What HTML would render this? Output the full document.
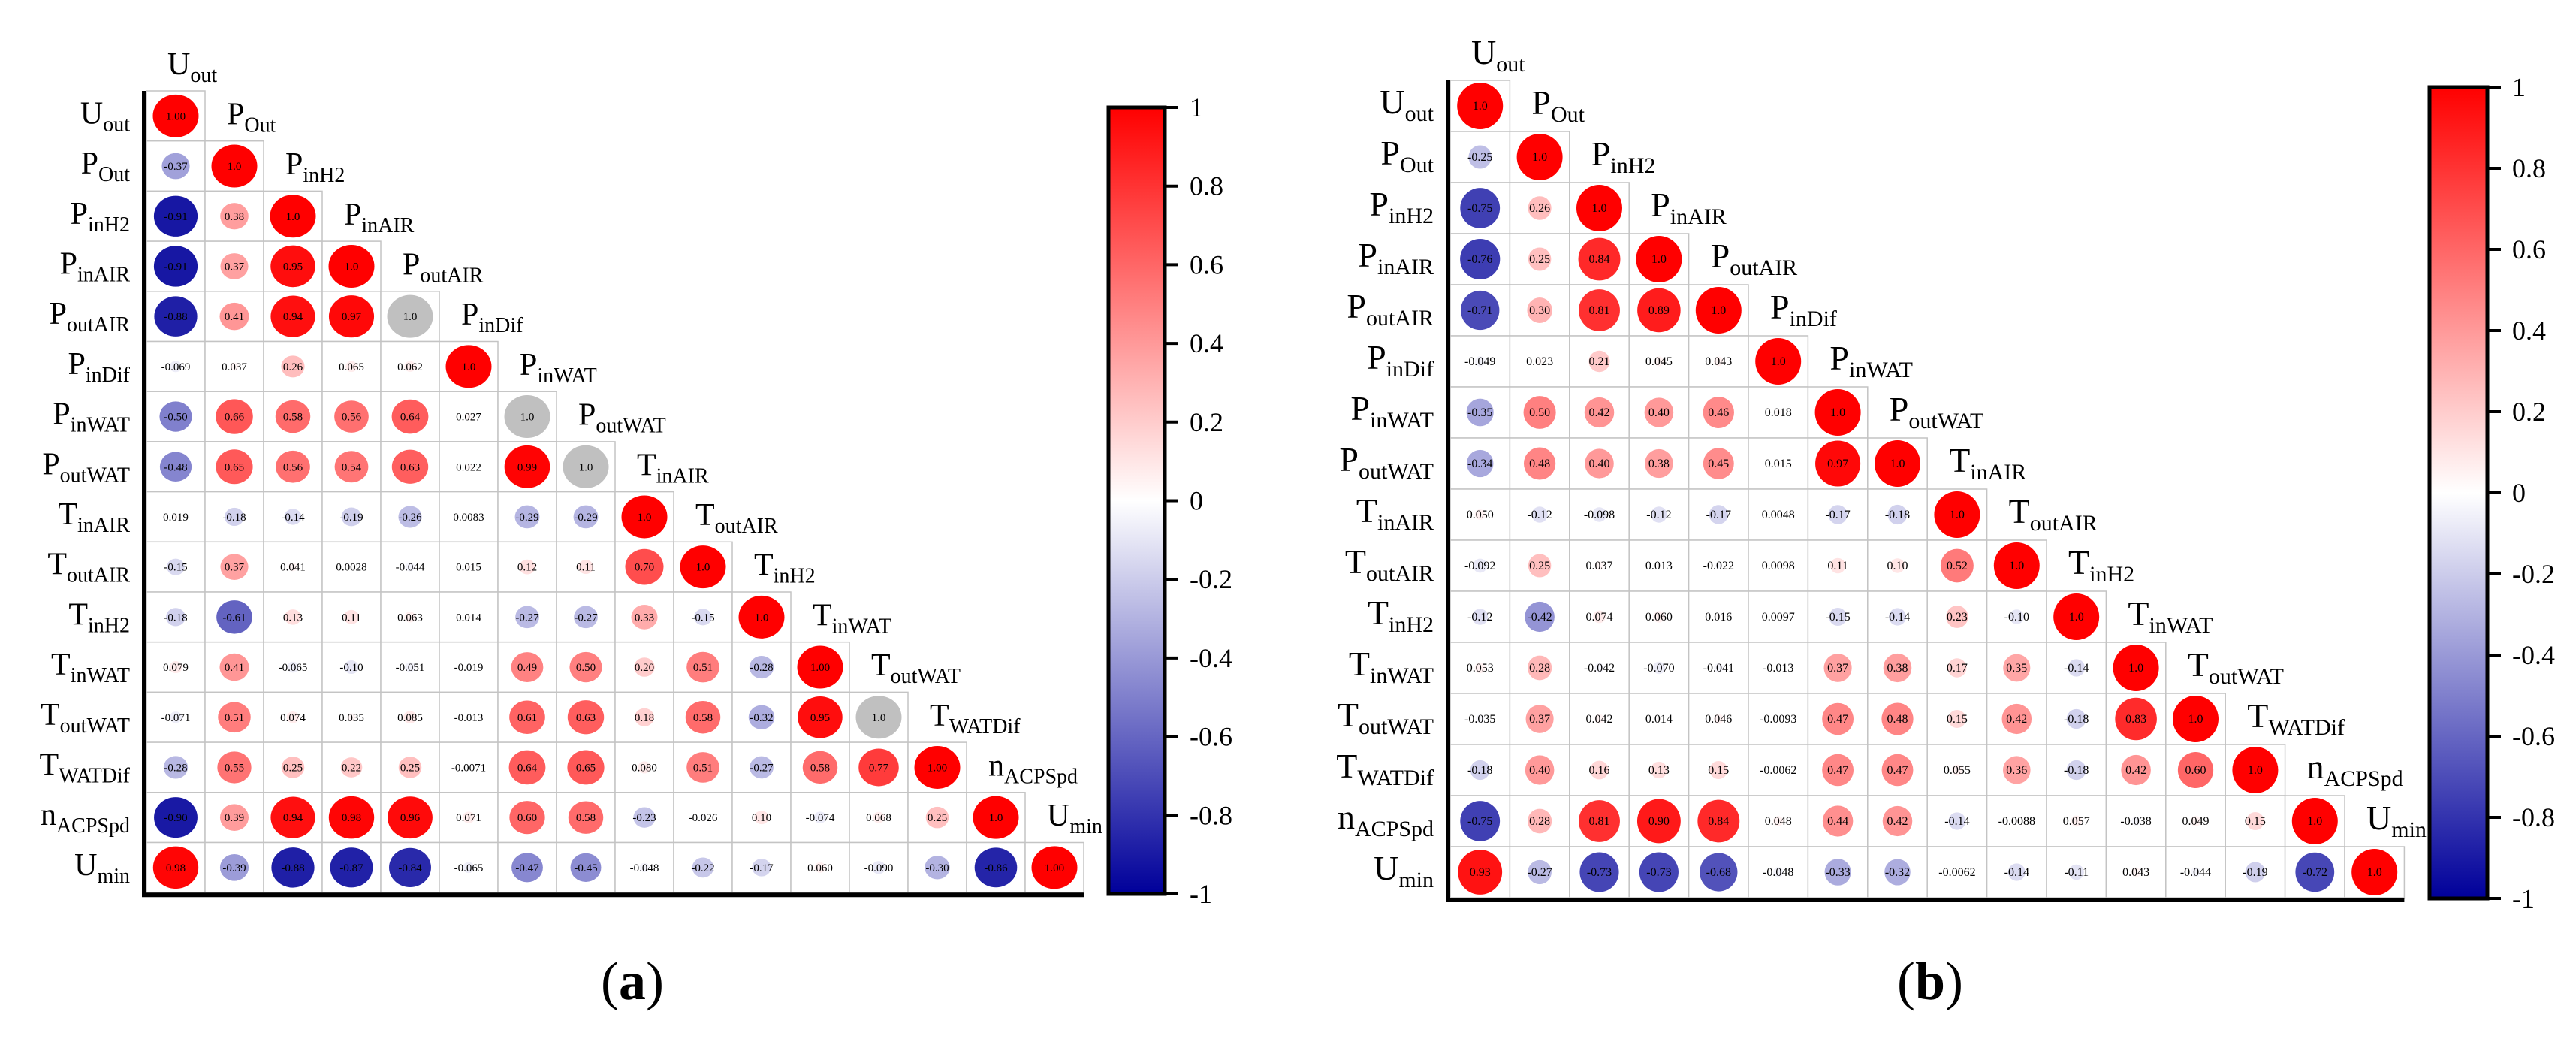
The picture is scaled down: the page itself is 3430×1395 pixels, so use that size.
<!DOCTYPE html>
<html><head><meta charset="utf-8"><style>
html,body{margin:0;padding:0;background:#fff;}
svg{display:block;font-family:"Liberation Serif",serif;}
</style></head><body>
<svg id="fig" width="3430" height="1395" viewBox="0 0 3430 1395" xmlns="http://www.w3.org/2000/svg">
<defs>
<linearGradient id="cbgrad" x1="0" y1="0" x2="0" y2="1">
<stop offset="0" stop-color="#ff0000"/><stop offset="0.5" stop-color="#ffffff"/><stop offset="1" stop-color="#00009a"/>
</linearGradient>
</defs>
<text x="842" y="1330" font-size="72" text-anchor="middle">(<tspan font-weight="bold">a</tspan>)</text>
<text x="2570" y="1330" font-size="72" text-anchor="middle">(<tspan font-weight="bold">b</tspan>)</text>
</svg>
<script>
const varMain = ["U","P","P","P","P","P","P","P","T","T","T","T","T","T","n","U"];
const varSub = ["out","Out","inH2","inAIR","outAIR","inDif","inWAT","outWAT","inAIR","outAIR","inH2","inWAT","outWAT","WATDif","ACPSpd","min"];
const corrA = [
["1.00"],
["-0.37","1.0"],
["-0.91","0.38","1.0"],
["-0.91","0.37","0.95","1.0"],
["-0.88","0.41","0.94","0.97","1.0"],
["-0.069","0.037","0.26","0.065","0.062","1.0"],
["-0.50","0.66","0.58","0.56","0.64","0.027","1.0"],
["-0.48","0.65","0.56","0.54","0.63","0.022","0.99","1.0"],
["0.019","-0.18","-0.14","-0.19","-0.26","0.0083","-0.29","-0.29","1.0"],
["-0.15","0.37","0.041","0.0028","-0.044","0.015","0.12","0.11","0.70","1.0"],
["-0.18","-0.61","0.13","0.11","0.063","0.014","-0.27","-0.27","0.33","-0.15","1.0"],
["0.079","0.41","-0.065","-0.10","-0.051","-0.019","0.49","0.50","0.20","0.51","-0.28","1.00"],
["-0.071","0.51","0.074","0.035","0.085","-0.013","0.61","0.63","0.18","0.58","-0.32","0.95","1.0"],
["-0.28","0.55","0.25","0.22","0.25","-0.0071","0.64","0.65","0.080","0.51","-0.27","0.58","0.77","1.00"],
["-0.90","0.39","0.94","0.98","0.96","0.071","0.60","0.58","-0.23","-0.026","0.10","-0.074","0.068","0.25","1.0"],
["0.98","-0.39","-0.88","-0.87","-0.84","-0.065","-0.47","-0.45","-0.048","-0.22","-0.17","0.060","-0.090","-0.30","-0.86","1.00"]
];
const grayDiagA = [4,6,7,12];
const corrB = [
["1.0"],
["-0.25","1.0"],
["-0.75","0.26","1.0"],
["-0.76","0.25","0.84","1.0"],
["-0.71","0.30","0.81","0.89","1.0"],
["-0.049","0.023","0.21","0.045","0.043","1.0"],
["-0.35","0.50","0.42","0.40","0.46","0.018","1.0"],
["-0.34","0.48","0.40","0.38","0.45","0.015","0.97","1.0"],
["0.050","-0.12","-0.098","-0.12","-0.17","0.0048","-0.17","-0.18","1.0"],
["-0.092","0.25","0.037","0.013","-0.022","0.0098","0.11","0.10","0.52","1.0"],
["-0.12","-0.42","0.074","0.060","0.016","0.0097","-0.15","-0.14","0.23","-0.10","1.0"],
["0.053","0.28","-0.042","-0.070","-0.041","-0.013","0.37","0.38","0.17","0.35","-0.14","1.0"],
["-0.035","0.37","0.042","0.014","0.046","-0.0093","0.47","0.48","0.15","0.42","-0.18","0.83","1.0"],
["-0.18","0.40","0.16","0.13","0.15","-0.0062","0.47","0.47","0.055","0.36","-0.18","0.42","0.60","1.0"],
["-0.75","0.28","0.81","0.90","0.84","0.048","0.44","0.42","-0.14","-0.0088","0.057","-0.038","0.049","0.15","1.0"],
["0.93","-0.27","-0.73","-0.73","-0.68","-0.048","-0.33","-0.32","-0.0062","-0.14","-0.11","0.043","-0.044","-0.19","-0.72","1.0"]
];
const grayDiagB = [];
const cbTicks = [1,0.8,0.6,0.4,0.2,0,-0.2,-0.4,-0.6,-0.8,-1];
const cbTickLabels = ["1","0.8","0.6","0.4","0.2","0","-0.2","-0.4","-0.6","-0.8","-1"];

const NS = "http://www.w3.org/2000/svg";
const svg = document.getElementById("fig");
function mk(tag, attrs, parent){
  const e = document.createElementNS(NS, tag);
  for (const k in attrs) e.setAttribute(k, attrs[k]);
  (parent||svg).appendChild(e);
  return e;
}
function color(v){
  const a = Math.min(1, Math.abs(v));
  if (v >= 0){ const g = Math.round(255*(1-a)); return `rgb(255,${g},${g})`; }
  const g = Math.round(255*(1-a)); const b = Math.round(255 - a*(255-154));
  return `rgb(${g},${g},${b})`;
}
function label(g, x, y, main, sub, fsM, fsS, anchor){
  const t = mk("text", {x:x, y:y, "font-size":fsM, "text-anchor":anchor}, g);
  const s1 = mk("tspan", {}, t); s1.textContent = main;
  const s2 = mk("tspan", {"font-size":fsS, dy:10}, t); s2.textContent = sub;
  return t;
}
function panel(P){
  const g = mk("g", {});
  
  
  const n = P.data.length;
  const colX = j => P.x0 + j*P.cw;
  const rowY = i => P.y0 + i*P.rh;
  for (let i=0;i<n;i++){
    for (let j=0;j<=i;j++){
      const r = mk("rect", {x:colX(j), y:rowY(i), width:P.cw, height:P.rh, fill:"#fff", stroke:"#c4c4c4", "stroke-width":1.5}, g);
      
      
    }
  }
  for (let i=0;i<n;i++){
    for (let j=0;j<=i;j++){
      const txt = P.data[i][j]; const v = parseFloat(txt);
      const cx = colX(j)+P.cw/2, cy = rowY(i)+P.rh/2;
      const s = Math.sqrt(Math.abs(v));
      const fill = (i===j && P.gray.indexOf(i)>=0) ? "#c0c0c0" : color(v);
      const e = mk("ellipse", {cx:cx, cy:cy, rx:P.rx*s, ry:P.ry*s, fill:fill}, g);
      
      
      const t = mk("text", {x:cx, y:cy+5, "font-size":P.numFs, "text-anchor":"middle"}, g);
      t.textContent = txt;
      
      
    }
  }
  for (let i=0;i<n;i++){
    const t = label(g, P.x0-22, rowY(i)+P.rh/2+10, varMain[i], varSub[i], P.fsM, P.fsS, "end");
    
    
  }
  const top = label(g, colX(0)+28, P.y0-22, varMain[0], varSub[0], P.fsM, P.fsS, "start");
  
  
  for (let i=0;i<n-1;i++){
    const t = label(g, colX(i+1)+29, rowY(i)+P.rh/2+11, varMain[i+1], varSub[i+1], P.fsM, P.fsS, "start");
    
    
  }
  const yb = rowY(n);
  const la = mk("line", {x1:P.x0-3, y1:P.y0, x2:P.x0-3, y2:yb+3, stroke:"#000", "stroke-width":6}, g);
  
  
  const ba = mk("line", {x1:P.x0-6, y1:yb+3, x2:colX(n), y2:yb+3, stroke:"#000", "stroke-width":6}, g);
  
  
  const cb = mk("rect", {x:P.cbx, y:P.cbTop, width:P.cbw, height:P.cbBot-P.cbTop, fill:"url(#cbgrad)", stroke:"#000", "stroke-width":5}, g);
  
  
  const vy = v => P.cbTop + (1-v)/2*(P.cbBot-P.cbTop);
  cbTicks.forEach((v,k)=>{
    const y = vy(v);
    const tk = mk("line", {x1:P.cbx+P.cbw, y1:y, x2:P.cbx+P.cbw+18, y2:y, stroke:"#000", "stroke-width":4}, g);
    
    
    const tl = mk("text", {x:P.cbx+P.cbw+33, y:y+12, "font-size":P.cbFs}, g);
    tl.textContent = cbTickLabels[k];
    
    
  });
}
panel({name:"panel-a-correlation-matrix", data:corrA, gray:grayDiagA, x0:195, y0:121, cw:78, rh:66.7, rx:30.5, ry:28.5, numFs:15, fsM:42, fsS:28, cbx:1476, cbw:75, cbTop:143, cbBot:1190, cbFs:36});
panel({name:"panel-b-correlation-matrix", data:corrB, gray:grayDiagB, x0:1931, y0:107, cw:79.4, rh:68, rx:30.5, ry:31, numFs:16, fsM:46, fsS:30, cbx:3235, cbw:77, cbTop:116, cbBot:1196, cbFs:36});
</script>
</body></html>
